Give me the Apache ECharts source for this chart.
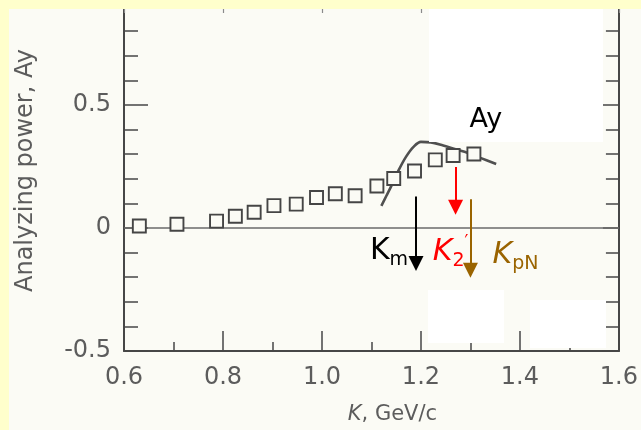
<!DOCTYPE html>
<html>
<head>
<meta charset="utf-8">
<script src="https://cdn.jsdelivr.net/npm/echarts@6/dist/echarts.min.js"></script>
<style>
  html, body { margin: 0; padding: 0; background: #FFFFCC; overflow: hidden; }
  /* the frame's top edge (Ay = 1.0) sits just above the visible area */
  #chart { width: 641px; height: 448px; margin-top: -18px; }
</style>
</head>
<body>
<div id="chart"></div>
<script>
// Measured analyzing power Ay versus beam momentum K (GeV/c)
const momentum = [0.631, 0.707, 0.787, 0.825, 0.863, 0.903, 0.948, 0.989, 1.027, 1.067, 1.111, 1.145, 1.187, 1.229, 1.265, 1.307];
const analyzingPower = [0.008, 0.015, 0.028, 0.048, 0.064, 0.091, 0.097, 0.124, 0.139, 0.131, 0.171, 0.201, 0.232, 0.277, 0.295, 0.301];

// Model curve
const curveK = [1.120, 1.130, 1.140, 1.155, 1.170, 1.185, 1.200, 1.220, 1.245, 1.270, 1.295, 1.320, 1.352];
const curveAy = [0.090, 0.130, 0.170, 0.235, 0.290, 0.330, 0.350, 0.348, 0.335, 0.320, 0.305, 0.285, 0.260];

// Characteristic momenta, marked with downward arrows
const arrowK = [1.19, 1.27, 1.30];
const arrowFrom = [0.128, 0.248, 0.117];
const arrowTo = [-0.144, 0.084, -0.172];
const arrowColors = ['#000000', '#FF0000', '#9A6400'];

// Tick labels
const xTickValues = [0.6, 0.8, 1.0, 1.2, 1.4, 1.6];
const xTickLabels = ['0.6', '0.8', '1.0', '1.2', '1.4', '1.6'];
const yTickValues = [-0.5, 0, 0.5];
const yTickLabels = ['-0.5', '0', '0.5'];

function pickLabel(values, labels) {
  return function (v) {
    for (let i = 0; i < values.length; i++) {
      if (Math.abs(values[i] - v) < 1e-6) return labels[i];
    }
    return '';
  };
}

const axisGray = '#474747';
const textGray = '#5c5c5c';
const paper = '#FBFBF5';
const font = 'DejaVu Sans';
const annotationFont = "'Comic Sans MS', 'DejaVu Sans', sans-serif";
const shiftY = 18; // canvas offset of the hidden strip above the page

const chart = echarts.init(document.getElementById('chart'), null, { renderer: 'canvas' });

const arrowLabels = [
  { text: '{k|K}{sub|m}', color: arrowColors[0], offset: [-27, -12], italic: 'normal' },
  { text: '{k|K}{sub|2}{sup|\u2032}', color: arrowColors[1], offset: [-5, 45], italic: 'italic' },
  { text: '{k|K}{sub|pN}', color: arrowColors[2], offset: [45, -15], italic: 'italic' }
];

function patch(x, y, w, h, fill, z) {
  return { type: 'rect', z: z, silent: true, shape: { x: x, y: y + shiftY, width: w, height: h }, style: { fill: fill } };
}

const option = {
  backgroundColor: paper,
  animation: false,
  grid: { left: 124, right: 18, top: 0, bottom: 73 },
  xAxis: [
    {
      type: 'value', position: 'bottom',
      min: 0.6, max: 1.6, interval: 0.2,
      name: '{i|K}, GeV/c',
      nameLocation: 'middle', nameGap: 53,
      nameTextStyle: {
        fontFamily: font, fontSize: 21, color: textGray, padding: [0, 0, 0, 42],
        rich: { i: { fontFamily: font, fontSize: 21, fontStyle: 'italic', color: textGray } }
      },
      axisLine: { show: true, onZero: false, lineStyle: { color: axisGray, width: 2 } },
      axisTick: { show: true, inside: true, length: 20, lineStyle: { color: axisGray, width: 1.5 } },
      minorTick: { show: true, splitNumber: 2, length: 9, lineStyle: { color: axisGray, width: 1.5 } },
      axisLabel: { margin: 15, fontFamily: font, fontSize: 24, color: textGray, formatter: pickLabel(xTickValues, xTickLabels) },
      splitLine: { show: false }
    },
    {
      type: 'value', position: 'top',
      min: 0.6, max: 1.6, interval: 0.2,
      axisLine: { show: true, onZero: false, lineStyle: { color: axisGray, width: 2 } },
      axisTick: { show: true, inside: true, length: 31, lineStyle: { color: '#8a8a8a', width: 1.2 } },
      axisLabel: { show: false },
      splitLine: { show: false }
    }
  ],
  yAxis: [
    {
      type: 'value', position: 'left',
      min: -0.5, max: 1.0, interval: 0.5,
      name: 'Analyzing power, Ay',
      nameLocation: 'middle', nameGap: 86,
      nameTextStyle: { fontFamily: font, fontSize: 24, color: textGray, padding: [0, 8, 0, 0] },
      axisLine: { show: true, onZero: false, lineStyle: { color: axisGray, width: 2 } },
      axisTick: { show: true, inside: true, length: 24, lineStyle: { color: axisGray, width: 1.5 } },
      minorTick: { show: true, splitNumber: 5, length: 14, lineStyle: { color: axisGray, width: 1.5 } },
      axisLabel: { margin: 13, fontFamily: font, fontSize: 24, color: textGray, formatter: pickLabel(yTickValues, yTickLabels) },
      splitLine: { show: false }
    },
    {
      type: 'value', position: 'right',
      min: -0.5, max: 1.0, interval: 0.5,
      axisLine: { show: true, onZero: false, lineStyle: { color: axisGray, width: 2 } },
      axisTick: { show: true, inside: true, length: 16, lineStyle: { color: axisGray, width: 1.5 } },
      minorTick: { show: true, splitNumber: 5, length: 13, lineStyle: { color: axisGray, width: 1.5 } },
      axisLabel: { show: false },
      splitLine: { show: false }
    }
  ],
  series: [
    {
      // zero reference line
      type: 'line', data: [], z: 1, silent: true,
      markLine: {
        z: 1, silent: true, symbol: ['none', 'none'], animation: false,
        label: { show: false },
        lineStyle: { color: '#6a6a6a', width: 1.5, type: 'solid' },
        data: [{ yAxis: 0 }]
      }
    },
    {
      type: 'line', name: 'model', z: 2, silent: true,
      data: curveK.map((k, i) => [k, curveAy[i]]),
      smooth: 0.35, showSymbol: false, symbol: 'none',
      lineStyle: { color: '#505050', width: 2.6 }
    },
    {
      type: 'scatter', name: 'Ay', z: 3, silent: true,
      data: momentum.map((k, i) => [k, analyzingPower[i]]),
      symbol: 'rect', symbolSize: 13,
      itemStyle: { color: paper, borderColor: '#454545', borderWidth: 1.9, opacity: 1 },
      markPoint: {
        z: 10, silent: true, symbol: 'rect', symbolSize: 1,
        itemStyle: { color: 'rgba(0,0,0,0)' },
        data: [{
          coord: [momentum[momentum.length - 1], analyzingPower[analyzingPower.length - 1]],
          label: {
            show: true, position: 'inside', offset: [12, -34],
            formatter: 'Ay', fontFamily: annotationFont, fontSize: 27, color: '#000'
          }
        }]
      }
    },
    {
      type: 'line', name: 'arrows', z: 10, silent: true, data: [],
      markLine: {
        z: 10, silent: true, animation: false,
        symbol: ['none', 'triangle'], symbolSize: 15,
        label: { show: false },
        data: arrowK.map((k, i) => [
          { coord: [k, arrowFrom[i]], lineStyle: { color: arrowColors[i], width: 2, type: 'solid' }, itemStyle: { color: arrowColors[i] } },
          { coord: [k, arrowTo[i]] }
        ])
      },
      markPoint: {
        z: 10, silent: true, symbol: 'rect', symbolSize: 1,
        itemStyle: { color: 'rgba(0,0,0,0)' },
        data: arrowK.map((k, i) => ({
          coord: [k, arrowTo[i]],
          label: {
            show: true, position: 'inside', offset: arrowLabels[i].offset,
            formatter: arrowLabels[i].text,
            rich: {
              k: { fontFamily: annotationFont, fontSize: 30, lineHeight: 36, color: arrowLabels[i].color, fontStyle: arrowLabels[i].italic },
              sub: { fontFamily: annotationFont, fontSize: 19, lineHeight: 19, verticalAlign: 'bottom', color: arrowLabels[i].color },
              sup: { fontFamily: annotationFont, fontSize: 17, lineHeight: 17, verticalAlign: 'top', color: arrowLabels[i].color }
            }
          }
        }))
      }
    }
  ],
  graphic: {
    elements: [
      // pasted white patches
      patch(429, 9, 174, 133, '#FFFFFF', 4),
      patch(428, 290, 76, 53, '#FFFFFF', 4),
      patch(530, 300, 76, 48, '#FFFFFF', 4),
      // slide background around the scan
      patch(0, -shiftY, 641, 9 + shiftY, '#FFFFCC', 100),
      patch(0, -shiftY, 9, 448, '#FFFFCC', 100)
    ]
  }
};

chart.setOption(option);
</script>
</body>
</html>
